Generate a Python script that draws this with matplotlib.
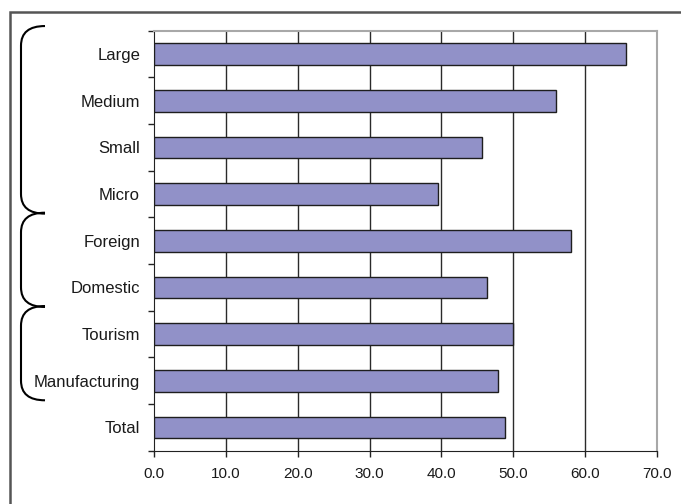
import matplotlib

matplotlib.use("Agg")
import matplotlib.pyplot as plt
from matplotlib.patches import PathPatch, Rectangle
from matplotlib.path import Path
from matplotlib.transforms import blended_transform_factory

# values
categories = ["Large", "Medium", "Small", "Micro", "Foreign", "Domestic",
              "Tourism", "Manufacturing", "Total"]
values = [65.7, 55.9, 45.6, 39.5, 58.0, 46.3, 50.0, 47.9, 48.9]
x_ticks = [0, 10, 20, 30, 40, 50, 60, 70]
x_tick_labels = ["0.0", "10.0", "20.0", "30.0", "40.0", "50.0", "60.0", "70.0"]
# category index spans grouped by the braces on the left
brace_groups = [(0, 3), (4, 5), (6, 7)]

plt.rcParams["font.family"] = ["Liberation Sans", "DejaVu Sans"]

fig = plt.figure(figsize=(6.81, 5.04), dpi=100)
ax = fig.add_axes([154 / 681, 53.3 / 504, 503 / 681, 420 / 504])

ypos = list(range(len(categories)))
ax.barh(ypos, values, height=0.465, color="#9191C8", edgecolor="#1E1E1E",
        linewidth=1.0, zorder=3)

ax.set_xlim(0, 70)
ax.set_ylim(len(categories) - 0.5, -0.5)

ax.set_xticks(x_ticks)
ax.set_xticklabels(x_tick_labels, fontsize=11)
ax.tick_params(axis="x", direction="out", length=4, width=1, pad=8,
               colors="#222222", labelcolor="#1A1A1A")

ax.set_yticks(ypos)
ax.set_yticklabels(categories, fontsize=12, color="#1A1A1A")
ax.set_yticks([i - 0.5 for i in range(len(categories) + 1)], minor=True)
ax.tick_params(axis="y", which="major", length=0, pad=10)
ax.tick_params(axis="y", which="minor", direction="out", length=4, width=1, color="#222222")

for x in x_ticks[1:-1]:
    ax.axvline(x, color="#2A2A2A", linewidth=1.0, zorder=1)

ax.spines["left"].set_color("#222222")
ax.spines["bottom"].set_color("#222222")
ax.spines["top"].set_color("#A8A8A8")
ax.spines["right"].set_color("#A8A8A8")
ax.spines["top"].set_linewidth(1.5)
ax.spines["right"].set_linewidth(1.5)

# curly group brackets, x in figure fraction, y in category units
trans = blended_transform_factory(fig.transFigure, ax.transData)
xl, xr = 21 / 681, 45 / 681
r = 0.42
for start, end in brace_groups:
    y0, y1 = start - 0.6, end + 0.42
    verts = [(xr, y0), (xl, y0), (xl, y0 + r),
             (xl, y1 - r),
             (xl, y1), (xr, y1)]
    codes = [Path.MOVETO, Path.CURVE3, Path.CURVE3,
             Path.LINETO,
             Path.CURVE3, Path.CURVE3]
    fig.add_artist(PathPatch(Path(verts, codes), transform=trans, fill=False,
                             edgecolor="black", linewidth=1.5, clip_on=False))

# outer frame around the chart (cut by the image edges)
fig.add_artist(Rectangle((10 / 681, -0.2), 1.0, 1.2 - 12 / 504,
                         transform=fig.transFigure, fill=False,
                         edgecolor="#555555", linewidth=1.8))

fig.savefig("out.png", dpi=100)
